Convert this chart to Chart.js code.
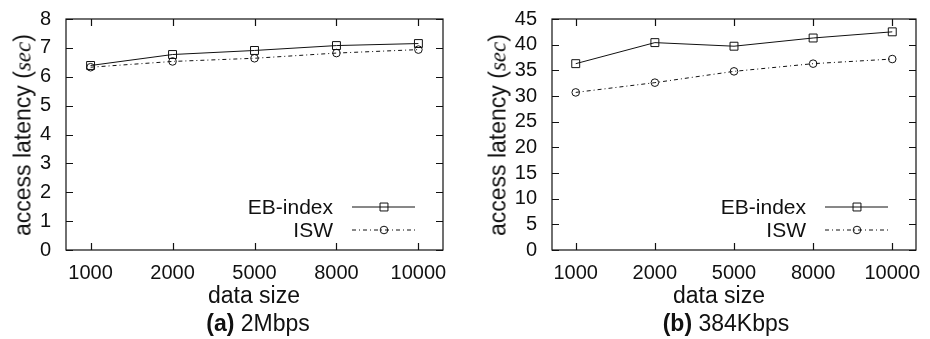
<!DOCTYPE html>
<html>
<head>
<meta charset="utf-8">
<script src="https://cdn.jsdelivr.net/npm/chart.js@4.4.1/dist/chart.umd.min.js"></script>
<style>
body { margin: 0; background: #fff; }
#wrap { position: relative; width: 930px; height: 339px; font-family: "Liberation Sans", Arial, sans-serif; color: #111; }
.panel { position: absolute; top: 0; width: 465px; height: 339px; }
.panel canvas { position: absolute; left: 0; top: 0; }
.lbl { position: absolute; white-space: nowrap; transform: translate(-50%, -50%); }
.ytitle { font-size: 23px; transform: translate(-50%, -50%) rotate(-90deg); }
.ytitle i { font-family: "Liberation Serif", serif; }
.xtitle, .caption { font-size: 23px; }
</style>
</head>
<body>
<div id="wrap">
  <div class="panel" style="left:0"><canvas id="chartA" width="465" height="339"></canvas></div>
  <div class="panel" style="left:465px"><canvas id="chartB" width="465" height="339"></canvas></div>

  <div class="lbl ytitle" style="left:23px; top:135px">access latency (<i>sec</i>)</div>
  <div class="lbl ytitle" style="left:498px; top:135px">access latency (<i>sec</i>)</div>
  <div class="lbl xtitle" style="left:254px; top:295px">data size</div>
  <div class="lbl xtitle" style="left:719px; top:295px">data size</div>
  <div class="lbl caption" style="left:258px; top:323px"><b>(a)</b> 2Mbps</div>
  <div class="lbl caption" style="left:726px; top:323px"><b>(b)</b> 384Kbps</div>
</div>

<script>
const dataSizes = ['1000', '2000', '5000', '8000', '10000'];

// 2Mbps
const ebIndex2M = [6.39, 6.77, 6.91, 7.08, 7.15];
const isw2M = [6.33, 6.53, 6.64, 6.82, 6.94];

// 384Kbps
const ebIndex384K = [36.3, 40.4, 39.7, 41.3, 42.5];
const isw384K = [30.7, 32.6, 34.8, 36.3, 37.2];

const INK = '#111';
const TICK_LEN = 7;

// frame around the plot with inward ticks on all four sides (gnuplot style)
const framePlugin = {
  id: 'frame',
  afterDraw(chart) {
    const { ctx, chartArea: a, scales: { x, y } } = chart;
    ctx.save();
    ctx.strokeStyle = INK;
    ctx.lineWidth = 1.2;
    ctx.strokeRect(a.left, a.top, a.right - a.left, a.bottom - a.top);
    ctx.beginPath();
    x.ticks.forEach(t => {
      const px = Math.round(x.getPixelForValue(t.value)) + 0.5;
      ctx.moveTo(px, a.bottom); ctx.lineTo(px, a.bottom - TICK_LEN);
      ctx.moveTo(px, a.top); ctx.lineTo(px, a.top + TICK_LEN);
    });
    y.ticks.forEach(t => {
      const py = Math.round(y.getPixelForValue(t.value)) + 0.5;
      ctx.moveTo(a.left, py); ctx.lineTo(a.left + TICK_LEN, py);
      ctx.moveTo(a.right, py); ctx.lineTo(a.right - TICK_LEN, py);
    });
    ctx.stroke();
    ctx.restore();
  }
};

// key in the lower right corner of the plot
const keyPlugin = {
  id: 'key',
  afterDraw(chart) {
    const { ctx, chartArea: a } = chart;
    ctx.save();
    ctx.font = '21px "Liberation Sans", Arial, sans-serif';
    ctx.textAlign = 'right';
    ctx.textBaseline = 'middle';
    chart.data.datasets.forEach((ds, i) => {
      const yy = a.bottom - 43 + i * 23;
      ctx.fillStyle = INK;
      ctx.fillText(ds.label, a.right - 110, yy + 1);
      ctx.strokeStyle = ds.borderColor;
      ctx.lineWidth = ds.borderWidth;
      ctx.setLineDash(ds.borderDash || []);
      ctx.beginPath();
      ctx.moveTo(a.right - 91, yy);
      ctx.lineTo(a.right - 28, yy);
      ctx.stroke();
      ctx.setLineDash([]);
      ctx.fillStyle = 'rgba(0,0,0,0)';
      Chart.helpers.drawPoint(ctx, {
        pointStyle: ds.pointStyle, radius: ds.pointRadius, borderWidth: 1, rotation: 0
      }, a.right - 59, yy);
    });
    ctx.restore();
  }
};

function makeSeries(label, values, style) {
  return Object.assign({
    label: label,
    data: values.map((v, i) => ({ x: i, y: v })),
    borderColor: INK,
    backgroundColor: 'transparent',
    borderWidth: 1,
    pointBackgroundColor: 'transparent',
    pointBorderColor: INK,
    pointBorderWidth: 1,
    tension: 0
  }, style);
}

function makeChart(id, eb, isw, yMax, yStep, yWidth, padRight) {
  const tickFont = { family: '"Liberation Sans", Arial, sans-serif', size: 20 };
  return new Chart(document.getElementById(id), {
    type: 'line',
    data: {
      datasets: [
        makeSeries('EB-index', eb, { pointStyle: 'rect', pointRadius: 5.6 }),
        makeSeries('ISW', isw, { pointStyle: 'circle', pointRadius: 3.8, borderDash: [4, 3, 1, 3] })
      ]
    },
    options: {
      responsive: false,
      animation: false,
      layout: { padding: { top: 17, right: padRight, bottom: 0, left: 0 } },
      scales: {
        x: {
          type: 'linear',
          min: -0.3,
          max: 4.3,
          afterFit: s => { s.height = 89; },
          grid: { display: false },
          border: { display: false },
          ticks: {
            stepSize: 1,
            includeBounds: false,
            autoSkip: false,
            maxRotation: 0,
            padding: 3,
            font: tickFont,
            color: INK,
            callback: v => dataSizes[v] ?? ''
          }
        },
        y: {
          min: 0,
          max: yMax,
          afterFit: s => { s.width = yWidth; },
          grid: { display: false },
          border: { display: false },
          ticks: { stepSize: yStep, autoSkip: false, padding: 7, font: tickFont, color: INK }
        }
      },
      plugins: {
        legend: { display: false },
        tooltip: { enabled: false }
      }
    },
    plugins: [framePlugin, keyPlugin]
  });
}

makeChart('chartA', ebIndex2M, isw2M, 8, 1, 66, 22);
makeChart('chartB', ebIndex384K, isw384K, 45, 5, 87, 14);
</script>
</body>
</html>
